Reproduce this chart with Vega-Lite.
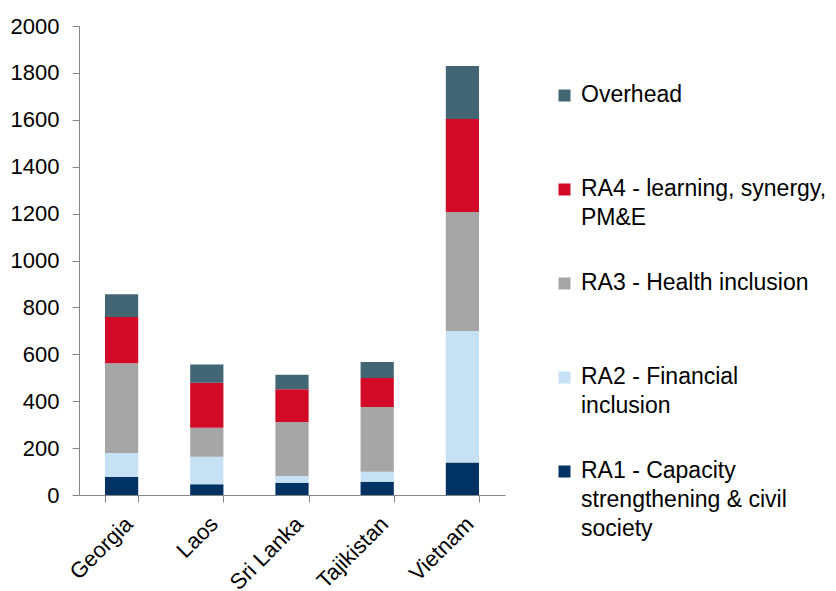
{
  "$schema": "https://vega.github.io/schema/vega-lite/v6.json",
  "width": 426,
  "height": 469,
  "autosize": "none",
  "padding": {"left": 79, "top": 26, "right": 331, "bottom": 96},
  "background": "white",
  "config": {
    "font": "Liberation Sans",
    "view": {"stroke": null},
    "axis": {"labelFont": "Liberation Sans", "labelFontSize": 22, "labelColor": "#000000", "domainColor": "#868686", "tickColor": "#868686", "grid": false, "title": null}
  },
  "data": {
    "values": [
      {"country": "Georgia", "series": "RA1 - Capacity strengthening & civil society", "value": 77},
      {"country": "Georgia", "series": "RA2 - Financial inclusion", "value": 102},
      {"country": "Georgia", "series": "RA3 - Health inclusion", "value": 383},
      {"country": "Georgia", "series": "RA4 - learning, synergy, PM&E", "value": 197},
      {"country": "Georgia", "series": "Overhead", "value": 97},
      {"country": "Laos", "series": "RA1 - Capacity strengthening & civil society", "value": 46},
      {"country": "Laos", "series": "RA2 - Financial inclusion", "value": 117},
      {"country": "Laos", "series": "RA3 - Health inclusion", "value": 124},
      {"country": "Laos", "series": "RA4 - learning, synergy, PM&E", "value": 192},
      {"country": "Laos", "series": "Overhead", "value": 78},
      {"country": "Sri Lanka", "series": "RA1 - Capacity strengthening & civil society", "value": 52},
      {"country": "Sri Lanka", "series": "RA2 - Financial inclusion", "value": 29},
      {"country": "Sri Lanka", "series": "RA3 - Health inclusion", "value": 230},
      {"country": "Sri Lanka", "series": "RA4 - learning, synergy, PM&E", "value": 140},
      {"country": "Sri Lanka", "series": "Overhead", "value": 62},
      {"country": "Tajikistan", "series": "RA1 - Capacity strengthening & civil society", "value": 57},
      {"country": "Tajikistan", "series": "RA2 - Financial inclusion", "value": 42},
      {"country": "Tajikistan", "series": "RA3 - Health inclusion", "value": 276},
      {"country": "Tajikistan", "series": "RA4 - learning, synergy, PM&E", "value": 124},
      {"country": "Tajikistan", "series": "Overhead", "value": 68},
      {"country": "Vietnam", "series": "RA1 - Capacity strengthening & civil society", "value": 139},
      {"country": "Vietnam", "series": "RA2 - Financial inclusion", "value": 560},
      {"country": "Vietnam", "series": "RA3 - Health inclusion", "value": 508},
      {"country": "Vietnam", "series": "RA4 - learning, synergy, PM&E", "value": 396},
      {"country": "Vietnam", "series": "Overhead", "value": 226}
    ]
  },
  "transform": [
    {"calculate": "indexof(['RA1 - Capacity strengthening & civil society', 'RA2 - Financial inclusion', 'RA3 - Health inclusion', 'RA4 - learning, synergy, PM&E', 'Overhead'], datum.series)", "as": "stackOrder"}
  ],
  "mark": {"type": "bar"},
  "encoding": {
    "x": {
      "field": "country", "type": "nominal", "sort": null,
      "scale": {"paddingInner": 0.61, "paddingOuter": 0.305},
      "axis": {"labelAngle": -45, "tickBand": "extent", "tickSize": 7, "labelPadding": 11}
    },
    "y": {
      "field": "value", "type": "quantitative", "stack": "zero",
      "scale": {"domain": [0, 2000], "nice": false},
      "axis": {"values": [0, 200, 400, 600, 800, 1000, 1200, 1400, 1600, 1800, 2000], "format": "d", "tickSize": 7, "labelPadding": 13}
    },
    "order": {"field": "stackOrder", "type": "quantitative", "sort": "ascending"},
    "color": {
      "field": "series", "type": "nominal",
      "scale": {
        "domain": ["RA1 - Capacity strengthening & civil society", "RA2 - Financial inclusion", "RA3 - Health inclusion", "RA4 - learning, synergy, PM&E", "Overhead"],
        "range": ["#003263", "#C6E0F4", "#A6A6A6", "#D20A28", "#426674"]
      },
      "legend": {
        "title": null,
        "orient": "none",
        "legendX": 474,
        "legendY": 58,
        "values": ["Overhead", "RA4 - learning, synergy, PM&E", "RA3 - Health inclusion", "RA2 - Financial inclusion", "RA1 - Capacity strengthening & civil society"],
        "symbolType": "square",
        "symbolSize": 144,
        "symbolStrokeWidth": 0,
        "labelFont": "Liberation Sans",
        "labelFontSize": 23,
        "labelColor": "#000000",
        "labelOffset": 5,
        "labelLimit": 400,
        "labelBaseline": "top",
        "rowPadding": 12,
        "labelExpr": "datum.label == 'RA4 - learning, synergy, PM&E' ? ['RA4 - learning, synergy,', 'PM&E', ''] : datum.label == 'RA2 - Financial inclusion' ? ['RA2 - Financial', 'inclusion', ''] : datum.label == 'RA1 - Capacity strengthening & civil society' ? ['RA1 - Capacity', 'strengthening & civil', 'society'] : [datum.label, '', '']",
        "encode": {"labels": {"update": {"lineHeight": {"value": 29}, "dy": {"value": -12}}}}
      }
    }
  }
}
